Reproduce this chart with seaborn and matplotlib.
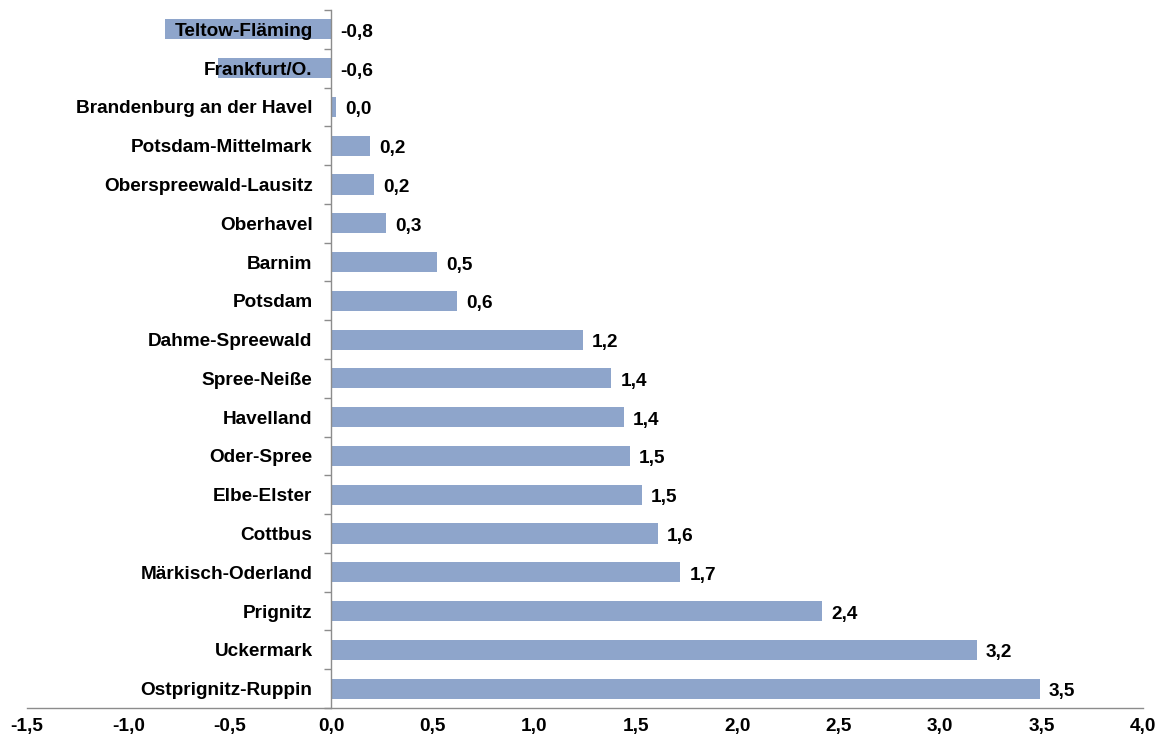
import matplotlib
matplotlib.use("Agg")
import matplotlib.pyplot as plt
import seaborn as sns
import pandas as pd
import numpy as np
from matplotlib.ticker import FixedLocator, FuncFormatter
import matplotlib.transforms as mtransforms

categories = ["Teltow-Fläming", "Frankfurt/O.", "Brandenburg an der Havel",
              "Potsdam-Mittelmark", "Oberspreewald-Lausitz", "Oberhavel", "Barnim",
              "Potsdam", "Dahme-Spreewald", "Spree-Neiße", "Havelland", "Oder-Spree",
              "Elbe-Elster", "Cottbus", "Märkisch-Oderland", "Prignitz", "Uckermark",
              "Ostprignitz-Ruppin"]
values = [-0.82, -0.56, 0.025, 0.19, 0.21, 0.27, 0.52, 0.62, 1.24, 1.38, 1.44,
          1.47, 1.53, 1.61, 1.72, 2.42, 3.18, 3.49]
xticks = [-1.5, -1.0, -0.5, 0.0, 0.5, 1.0, 1.5, 2.0, 2.5, 3.0, 3.5, 4.0]

sns.set_style("white")
plt.rcParams['font.family'] = ['Liberation Sans', 'DejaVu Sans']
plt.rcParams['font.weight'] = 'bold'
plt.rcParams['text.color'] = 'black'
plt.rcParams['xtick.color'] = 'black'
plt.rcParams['ytick.color'] = 'black'

FS = 13.7
df = pd.DataFrame({"cat": categories, "val": values})

fig = plt.figure(figsize=(11.64, 7.42), dpi=100)
ax = fig.add_axes([27/1164, 34/742, (1143-27)/1164, (732-34)/742])

sns.barplot(data=df, y="cat", x="val", orient="h", color="#8EA5CB",
            saturation=1, width=0.52, ax=ax, linewidth=0)

ax.set_axisbelow(False)
ax.set_xlim(-1.5, 4.0)
ax.set_ylim(len(categories) - 0.5, -0.5)
ax.set_xlabel("")
ax.set_ylabel("")

for s in ["top", "right"]:
    ax.spines[s].set_visible(False)
ax.spines["left"].set_position(("data", 0))
for s in ["left", "bottom"]:
    ax.spines[s].set_color("#8c8c8c")
    ax.spines[s].set_linewidth(1.0)

# x axis
ax.set_xticks(xticks)
ax.xaxis.set_major_formatter(FuncFormatter(lambda v, p: f"{v:.1f}".replace(".", ",")))
ax.tick_params(axis="x", which="major", direction="out", length=5, width=1,
               color="#8c8c8c", labelcolor="black", pad=2.5, labelsize=FS)
for lab in ax.get_xticklabels():
    lab.set_fontweight("bold")

# y axis: labels at category centres, ticks at boundaries
ax.set_yticks(np.arange(len(categories)))
ax.set_yticklabels(categories, fontweight="bold", fontsize=FS, color="black")
ax.tick_params(axis="y", which="major", length=0, pad=13.5, labelcolor="black")
ax.yaxis.set_minor_locator(FixedLocator(np.arange(-0.5, len(categories), 1.0)))
ax.tick_params(axis="y", which="minor", direction="out", length=5, width=1,
               color="#8c8c8c", left=True)

# value labels
offset = mtransforms.offset_copy(ax.transData, fig=fig, x=9, y=-3, units="dots")
for i, v in enumerate(values):
    ax.text(max(v, 0), i, f"{v:.1f}".replace(".", ",").replace("-0,0", "0,0"),
            transform=offset, ha="left", va="center", fontsize=FS,
            fontweight="bold", color="black", zorder=5)

fig.savefig("out.png", dpi=100)
